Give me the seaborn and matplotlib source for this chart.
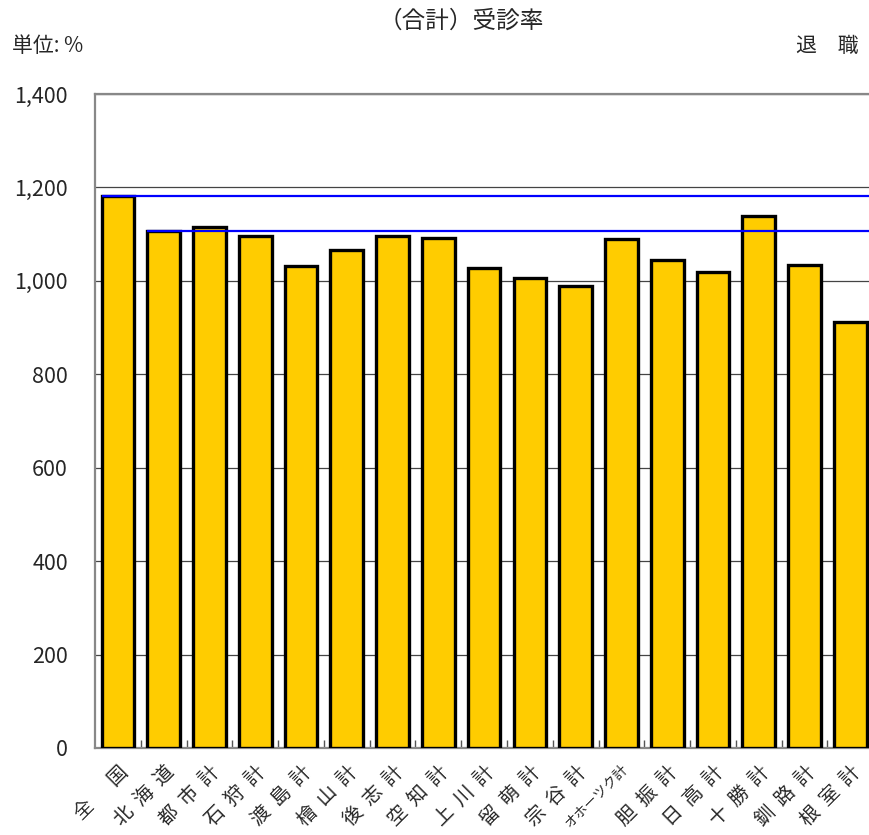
import matplotlib
matplotlib.use("Agg")
import matplotlib.pyplot as plt
import seaborn as sns
import pandas as pd
from matplotlib.ticker import FuncFormatter, MultipleLocator, FixedLocator

# Regions and their consultation rate (%)
REGIONS = ["全　  国", "北  海  道", "都  市  計", "石  狩  計", "渡  島  計", "檜  山  計",
           "後  志  計", "空  知  計", "上  川  計", "留  萌  計", "宗  谷  計", "オホーツク計",
           "胆  振  計", "日  高  計", "十  勝  計", "釧  路  計", "根  室  計"]
RATES = [1182, 1107, 1116, 1096, 1032, 1067, 1096, 1091, 1027, 1007, 989,
         1089, 1045, 1018, 1139, 1035, 913]

# Reference lines: national and Hokkaido levels
REF_LINES = [(0, RATES[0]), (1, RATES[1])]

sns.set_style("white")
plt.rcParams["font.family"] = ["Noto Sans CJK JP", "DejaVu Sans"]

df = pd.DataFrame({"region": REGIONS, "rate": RATES})

fig = plt.figure(figsize=(8.7, 8.35), dpi=100)
ax = fig.add_axes([0.1092, 0.1042, 0.8945, 0.7832])

sns.barplot(data=df, x="region", y="rate", color="#FFCC00", saturation=1,
            width=0.714, edgecolor="black", linewidth=2.4, ax=ax, zorder=3)

for idx, val in REF_LINES:
    ax.hlines(val, idx - 0.357, len(REGIONS) - 0.5, color="#0000FF", lw=1.6, zorder=4)

ax.set_xlim(-0.5, len(REGIONS) - 0.5)
ax.set_ylim(0, 1400)
ax.yaxis.set_major_locator(MultipleLocator(200))
ax.yaxis.set_major_formatter(FuncFormatter(lambda v, p: f"{int(v):,}"))
ax.grid(axis="y", color="#444444", lw=0.9, zorder=0)

for side in ["left", "top", "bottom"]:
    ax.spines[side].set_color("#888888")
    ax.spines[side].set_linewidth(1.6)
ax.spines["right"].set_visible(False)

# small inward ticks between the bars
ax.xaxis.set_minor_locator(FixedLocator([i + 0.5 for i in range(len(REGIONS) - 1)]))
ax.tick_params(axis="x", which="minor", direction="in", length=6, width=1, color="#555555", bottom=True)

ax.tick_params(axis="y", labelsize=15.5, length=0, pad=19.5)
ax.tick_params(axis="x", which="major", labelsize=14, length=0, pad=10)
plt.setp(ax.get_xticklabels(), rotation=45, ha="right", rotation_mode="anchor")
for lab in ax.get_xticklabels():
    if lab.get_text() == "オホーツク計":
        lab.set_fontsize(10)
ax.set_xlabel("")
ax.set_ylabel("")

fig.text(0.530, 0.975, "（合計）受診率", ha="center", va="center", fontsize=17)
fig.text(0.014, 0.945, "単位: %", ha="left", va="center", fontsize=15)
fig.text(0.987, 0.945, "退　職", ha="right", va="center", fontsize=15)

fig.savefig("out.png", dpi=100)
